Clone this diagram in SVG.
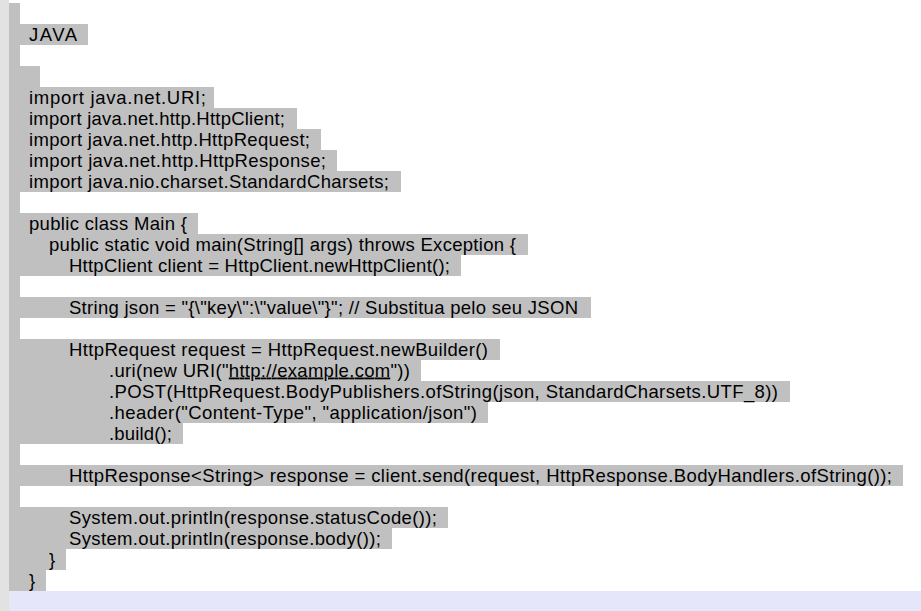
<svg xmlns="http://www.w3.org/2000/svg" width="921" height="611" viewBox="0 0 921 611">
<style>
.hl{fill:#c0c0c0}
.t{font-family:"Liberation Sans",Arial,sans-serif;font-size:18.5px;fill:#000}
.u{text-decoration:underline}
</style>
<rect x="0" y="0" width="921" height="611" fill="#ffffff"/>
<rect x="0" y="0" width="9" height="611" fill="#e2e2e2"/>
<rect x="9" y="3" width="11" height="588" fill="#c0c0c0"/>
<rect x="9" y="591" width="912" height="20" fill="#e6e6fa"/>
<g id="highlights">
<rect class="hl" x="20" y="24" width="68" height="21"/>
<rect class="hl" x="20" y="66" width="20" height="21"/>
<rect class="hl" x="20" y="87" width="194" height="21"/>
<rect class="hl" x="20" y="108" width="277" height="21"/>
<rect class="hl" x="20" y="129" width="301" height="21"/>
<rect class="hl" x="20" y="150" width="317" height="21"/>
<rect class="hl" x="20" y="171" width="381" height="21"/>
<rect class="hl" x="20" y="213" width="178" height="21"/>
<rect class="hl" x="20" y="234" width="508" height="21"/>
<rect class="hl" x="20" y="255" width="441" height="21"/>
<rect class="hl" x="20" y="297" width="571" height="21"/>
<rect class="hl" x="20" y="339" width="480" height="21"/>
<rect class="hl" x="20" y="360" width="401" height="21"/>
<rect class="hl" x="20" y="381" width="770" height="21"/>
<rect class="hl" x="20" y="402" width="468" height="21"/>
<rect class="hl" x="20" y="423" width="163" height="21"/>
<rect class="hl" x="20" y="465" width="883" height="21"/>
<rect class="hl" x="20" y="507" width="428" height="21"/>
<rect class="hl" x="20" y="528" width="372" height="21"/>
<rect class="hl" x="20" y="549" width="46" height="21"/>
<rect class="hl" x="20" y="570" width="26" height="21"/>
</g>
<g id="code">
<text class="t" x="29" y="40.5" textLength="48" lengthAdjust="spacing">JAVA</text>
<text class="t" x="29" y="103.5" textLength="177" lengthAdjust="spacing">import java.net.URI;</text>
<text class="t" x="29" y="124.5" textLength="256" lengthAdjust="spacing">import java.net.http.HttpClient;</text>
<text class="t" x="29" y="145.5" textLength="281" lengthAdjust="spacing">import java.net.http.HttpRequest;</text>
<text class="t" x="29" y="166.5" textLength="297" lengthAdjust="spacing">import java.net.http.HttpResponse;</text>
<text class="t" x="29" y="187.5" textLength="360" lengthAdjust="spacing">import java.nio.charset.StandardCharsets;</text>
<text class="t" x="29" y="229.5" textLength="158" lengthAdjust="spacing">public class Main {</text>
<text class="t" x="49" y="250.5" textLength="467" lengthAdjust="spacing">public static void main(String[] args) throws Exception {</text>
<text class="t" x="69" y="271.5" textLength="381" lengthAdjust="spacing">HttpClient client = HttpClient.newHttpClient();</text>
<text class="t" x="69" y="313.5" textLength="509" lengthAdjust="spacing">String json = "{\"key\":\"value\"}"; // Substitua pelo seu JSON</text>
<text class="t" x="69" y="355.5" textLength="419" lengthAdjust="spacing">HttpRequest request = HttpRequest.newBuilder()</text>
<text class="t" x="109" y="376.5" textLength="301" lengthAdjust="spacing">.uri(new URI("<tspan class="u">http://example.com</tspan>"))</text>
<text class="t" x="109" y="397.5" textLength="669" lengthAdjust="spacing">.POST(HttpRequest.BodyPublishers.ofString(json, StandardCharsets.UTF_8))</text>
<text class="t" x="109" y="418.5" textLength="368" lengthAdjust="spacing">.header("Content-Type", "application/json")</text>
<text class="t" x="109" y="439.5" textLength="63" lengthAdjust="spacing">.build();</text>
<text class="t" x="69" y="481.5" textLength="823" lengthAdjust="spacing">HttpResponse&lt;String&gt; response = client.send(request, HttpResponse.BodyHandlers.ofString());</text>
<text class="t" x="69" y="523.5" textLength="368" lengthAdjust="spacing">System.out.println(response.statusCode());</text>
<text class="t" x="69" y="544.5" textLength="312" lengthAdjust="spacing">System.out.println(response.body());</text>
<text class="t" x="49" y="565.5">}</text>
<text class="t" x="29" y="586.5">}</text>
</g>
</svg>
